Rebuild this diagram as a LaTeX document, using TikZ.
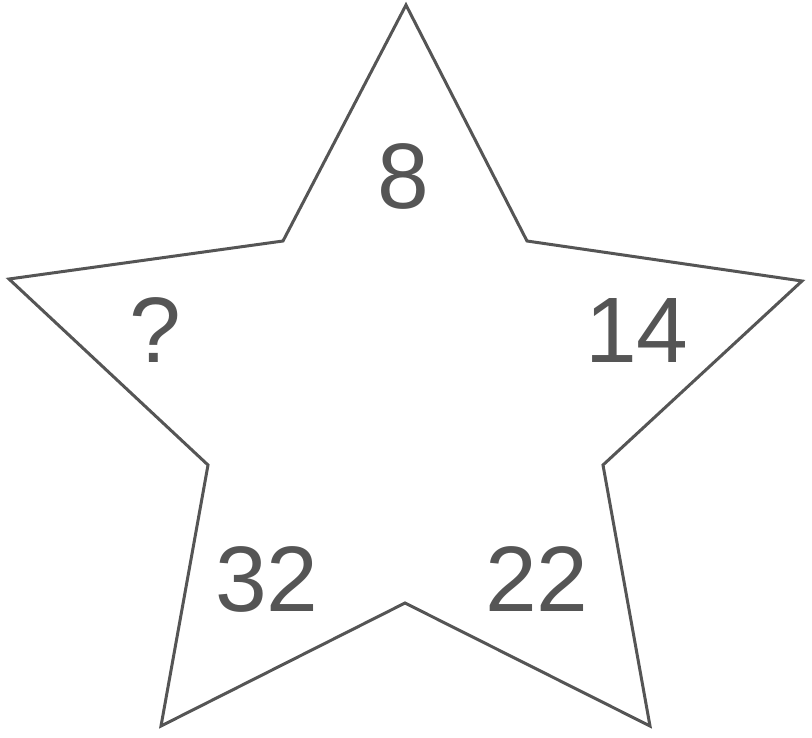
\documentclass[tikz,border=0pt]{standalone}
\usepackage{fontspec}
\setmainfont{Liberation Sans}
\definecolor{ink}{HTML}{555555}
\begin{document}
\begin{tikzpicture}[x=1pt,y=-1pt,
  num/.style={inner sep=0pt,text=ink,font=\fontsize{93}{93}\selectfont},
  starline/.style={draw=ink,line width=3pt,line join=miter}]
\useasboundingbox (0,0) rectangle (812,737);
\coordinate (A) at (406,5);
\coordinate (B) at (527,241);
\coordinate (C) at (802,281);
\coordinate (D) at (603,465);
\coordinate (E) at (650,726);
\coordinate (F) at (405,603);
\coordinate (G) at (161,726);
\coordinate (H) at (208,465);
\coordinate (I) at (9,279);
\coordinate (J) at (283,241);
\draw[starline] (A) -- (B) -- (C) -- (D) -- (E) -- (F) -- (G) -- (H) -- (I) -- (J) -- cycle;
\node[num] (n8) at (403,176) {8};
\node[num] (nq) at (155,330) {?};
\node[num] (n14) at (637,331) {14};
\node[num] (n32) at (267,579) {32};
\node[num] (n22) at (537,579) {22};
\end{tikzpicture}
\end{document}
